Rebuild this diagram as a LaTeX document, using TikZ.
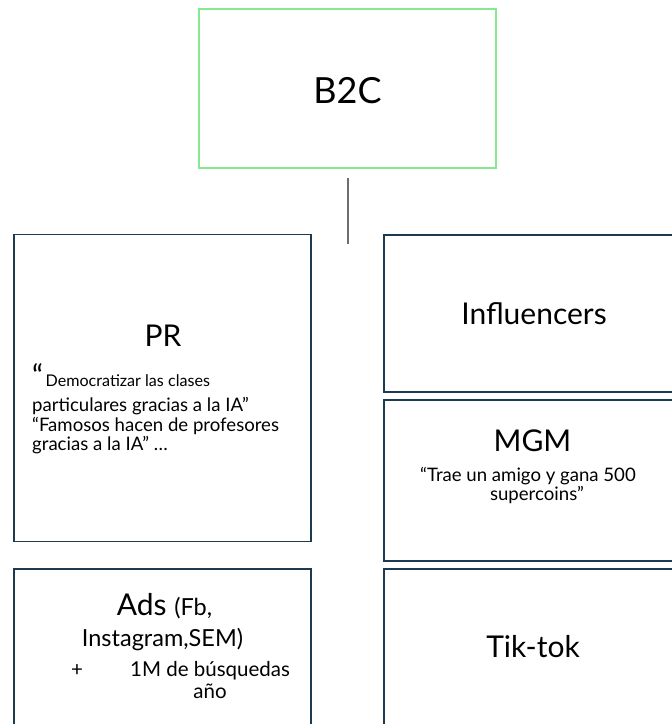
\documentclass[tikz,border=0pt]{standalone}
\usepackage{fontspec}
\setmainfont{Lato}
\definecolor{navy}{HTML}{1C3A50}
\definecolor{lgreen}{HTML}{86E890}
\definecolor{lgray}{HTML}{6E6E6E}
\newcommand{\fs}[1]{\fontsize{#1}{#1}\selectfont}
\begin{document}
\begin{tikzpicture}[x=1pt,y=-1pt,
  navybox/.style={draw=navy,line width=1.8pt,rectangle,inner sep=0pt,minimum width=297pt},
  greenbox/.style={draw=lgreen,line width=1.8pt,rectangle,inner sep=0pt},
  txt/.style={anchor=base,inner sep=0pt,text=black},
  txtw/.style={anchor=base west,inner sep=0pt,text=black}]
\useasboundingbox (0,0) rectangle (672,724);
% boxes
\node[greenbox,minimum width=297pt,minimum height=159pt] (b2c) at (347.5,88.5) {};
\node[navybox,minimum height=307pt] (pr) at (162.5,388) {};
\node[navybox,minimum height=171pt] (ads) at (162.5,654.5) {};
\node[navybox,minimum height=157pt] (infl) at (532.5,313.5) {};
\node[navybox,minimum height=160.5pt] (mgm) at (532.5,480.5) {};
\node[navybox,minimum height=171pt] (tik) at (532.5,654.5) {};
% connector
\coordinate (c1) at (347.7,178);
\coordinate (c2) at (347.7,244);
\draw[lgray,line width=1.8pt] (c1) -- (c2);
% texts
\node[txt,font=\fs{36}] (tb2c) at (347.5,103.3) {B2C};
\node[txt,font=\fs{30}] (tpr) at (163,346.7) {PR};
\node[txtw,font=\fs{16.1}] (pr1) at (32,386) {{\fs{30}“}\hspace{2.5pt}Democratizar las clases};
\node[txtw,font=\fs{18.6}] (pr2) at (32,411.7) {particulares gracias a la IA”};
\node[txtw,font=\fs{18.6}] (pr3) at (32,431) {“Famosos hacen de profesores};
\node[txtw,font=\fs{18.6}] (pr4) at (32,450.7) {gracias a la IA” …};
\node[txt,font=\fs{30}] (tinfl) at (534,324) {Influencers};
\node[txt,font=\fs{30}] (tmgm) at (532.5,451.7) {MGM};
\node[txt,font=\fs{18.6}] (mgm1) at (528,481.7) {“Trae un amigo y gana 500};
\node[txt,font=\fs{18.6}] (mgm2) at (537,500) {supercoins”};
\node[txt,font=\fs{30}] (ttik) at (533,657.7) {Tik-tok};
\node[txt,font=\fs{30}] (ads1) at (164.5,615) {Ads {\fs{23.5}(Fb,}};
\node[txt,font=\fs{23.5}] (ads2) at (162.5,646.7) {Instagram,SEM)};
\node[txtw,font=\fs{20.5}] (ads3a) at (71,676) {+};
\node[txtw,font=\fs{20.5}] (ads3b) at (130,676) {1M de búsquedas};
\node[txt,font=\fs{20.5}] (ads4) at (210,698.3) {año};
\end{tikzpicture}
\end{document}
